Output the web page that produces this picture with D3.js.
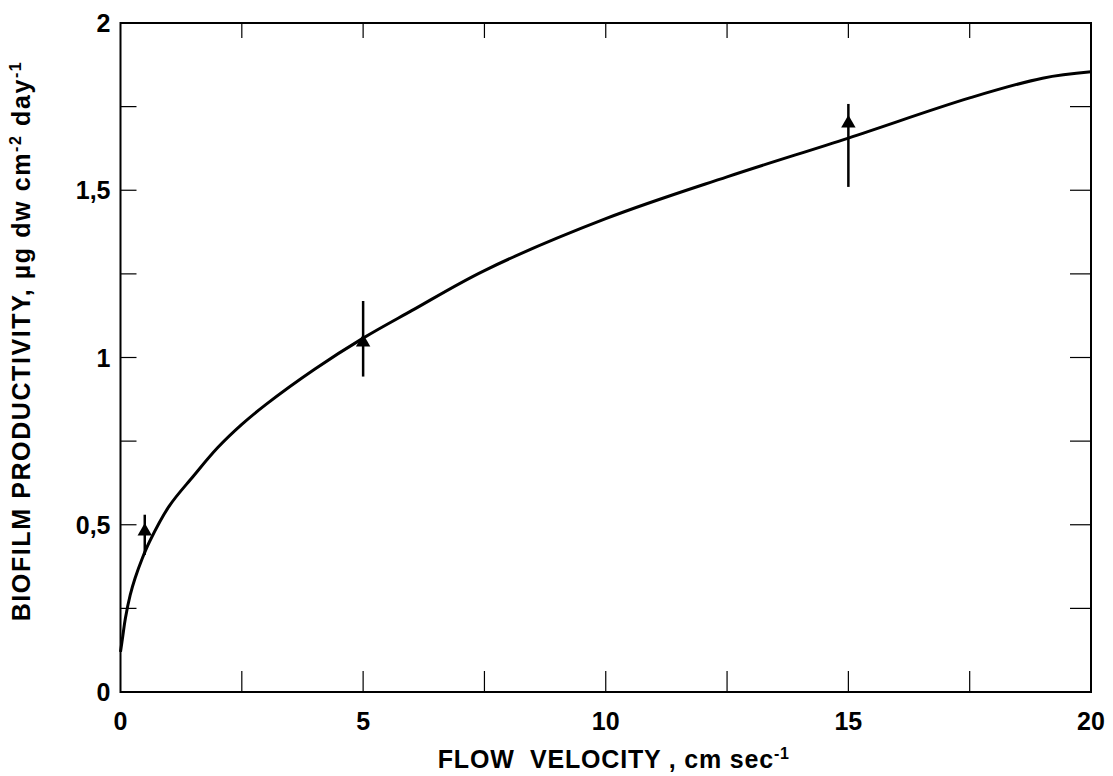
<!DOCTYPE html>
<html>
<head>
<meta charset="utf-8">
<script src="https://cdn.jsdelivr.net/npm/d3@7"></script>
<style>
  body { margin: 0; background: #fff; }
  text { font-family: "Liberation Sans", Arial, sans-serif; font-weight: bold; fill: #000; }
</style>
</head>
<body>
<svg id="drawing_region"></svg>
<script>
// fitted curve
const curveX = [0, 0.05, 0.1, 0.2, 0.3, 0.45, 0.6, 1, 1.5, 2, 2.5, 3, 4, 5, 6, 7.5, 10, 12.5, 15, 17.5, 19, 20];
const curveY = [0.12, 0.17, 0.22, 0.29, 0.34, 0.40, 0.45, 0.555, 0.645, 0.73, 0.80, 0.86, 0.965, 1.058, 1.14, 1.26, 1.415, 1.54, 1.656, 1.776, 1.835, 1.854];

// measured points with error bars
const pointX = [0.5, 5, 15];
const pointY = [0.48, 1.045, 1.70];
const pointLow = [0.41, 0.943, 1.51];
const pointHigh = [0.53, 1.169, 1.758];

const xTicks = [0, 5, 10, 15, 20];
const xMinor = [0, 2.5, 5, 7.5, 10, 12.5, 15, 17.5, 20];
const yTicks = [0, 0.5, 1, 1.5, 2];
const yMinor = [0, 0.25, 0.5, 0.75, 1, 1.25, 1.5, 1.75, 2];

const config = {
    width: 1113,
    height: 776,
    margin: {top: 23, right: 22, bottom: 84, left: 120.5}
};

const svg = d3.select('#drawing_region')
    .attr('width', config.width)
    .attr('height', config.height);

const x0 = config.margin.left, x1 = config.width - config.margin.right;
const y0 = config.height - config.margin.bottom, y1 = config.margin.top;

const xScale = d3.scaleLinear().domain([0, 20]).range([x0, x1]);
const yScale = d3.scaleLinear().domain([0, 2]).range([y0, y1]);

const fmt = d => String(d).replace('.', ',');

// inner ticks on all four sides
const g = svg.append('g').attr('stroke', '#000').attr('stroke-width', 1.2);
g.selectAll('.tb').data(xMinor.slice(1, -1)).enter().append('line')
    .attr('x1', d => xScale(d)).attr('x2', d => xScale(d))
    .attr('y1', y0).attr('y2', y0 - 21);
g.selectAll('.tt').data(xMinor.slice(1, -1)).enter().append('line')
    .attr('x1', d => xScale(d)).attr('x2', d => xScale(d))
    .attr('y1', y1).attr('y2', y1 + 15);
g.selectAll('.tl').data(yMinor.slice(1, -1)).enter().append('line')
    .attr('x1', x0).attr('x2', x0 + 16)
    .attr('y1', d => yScale(d)).attr('y2', d => yScale(d));
g.selectAll('.tr').data(yMinor.slice(1, -1)).enter().append('line')
    .attr('x1', x1).attr('x2', x1 - 21)
    .attr('y1', d => yScale(d)).attr('y2', d => yScale(d));

// frame
svg.append('rect')
    .attr('x', x0).attr('y', y1)
    .attr('width', x1 - x0).attr('height', y0 - y1)
    .attr('fill', 'none').attr('stroke', '#000').attr('stroke-width', 2);

// tick labels
svg.selectAll('.xl').data(xTicks).enter().append('text')
    .attr('x', d => xScale(d)).attr('y', y0 + 38)
    .attr('text-anchor', 'middle').attr('font-size', '25px')
    .text(d => d);
svg.selectAll('.yl').data(yTicks).enter().append('text')
    .attr('x', x0 - 10).attr('y', d => yScale(d) + 9)
    .attr('text-anchor', 'end').attr('font-size', '25px')
    .text(fmt);

// axis titles
const xt = svg.append('text')
    .attr('x', (x0 + x1) / 2 + 8).attr('y', 768)
    .attr('text-anchor', 'middle').attr('font-size', '25px')
    .attr('letter-spacing', '0.8px')
    .attr('xml:space', 'preserve');
xt.append('tspan').text('FLOW  VELOCITY , cm sec');
xt.append('tspan').attr('dy', -9).attr('font-size', '16px').text('-1');

const yt = svg.append('text')
    .attr('transform', 'translate(30,341) rotate(-90)')
    .attr('text-anchor', 'middle').attr('font-size', '25px')
    .attr('letter-spacing', '1.6px');
yt.append('tspan').text('BIOFILM PRODUCTIVITY, µg dw cm');
yt.append('tspan').attr('dy', -9).attr('font-size', '16px').text('-2');
yt.append('tspan').attr('dy', 9).text(' day');
yt.append('tspan').attr('dy', -9).attr('font-size', '16px').text('-1');

// fitted curve
const line = d3.line()
    .x(d => xScale(d[0]))
    .y(d => yScale(d[1]))
    .curve(d3.curveCatmullRom.alpha(0.5));
svg.append('path')
    .datum(curveX.map((v, i) => [v, curveY[i]]))
    .attr('d', line)
    .attr('fill', 'none').attr('stroke', '#000').attr('stroke-width', 3);

// error bars and triangles
const pts = pointX.map((v, i) => ({x: v, y: pointY[i], lo: pointLow[i], hi: pointHigh[i]}));
svg.selectAll('.eb').data(pts).enter().append('line')
    .attr('x1', d => xScale(d.x)).attr('x2', d => xScale(d.x))
    .attr('y1', d => yScale(d.lo)).attr('y2', d => yScale(d.hi))
    .attr('stroke', '#000').attr('stroke-width', 2.5);
svg.selectAll('.tri').data(pts).enter().append('path')
    .attr('d', d3.symbol().type(d3.symbolTriangle).size(90))
    .attr('transform', d => `translate(${xScale(d.x)},${yScale(d.y)})`)
    .attr('fill', '#000');
</script>
</body>
</html>
